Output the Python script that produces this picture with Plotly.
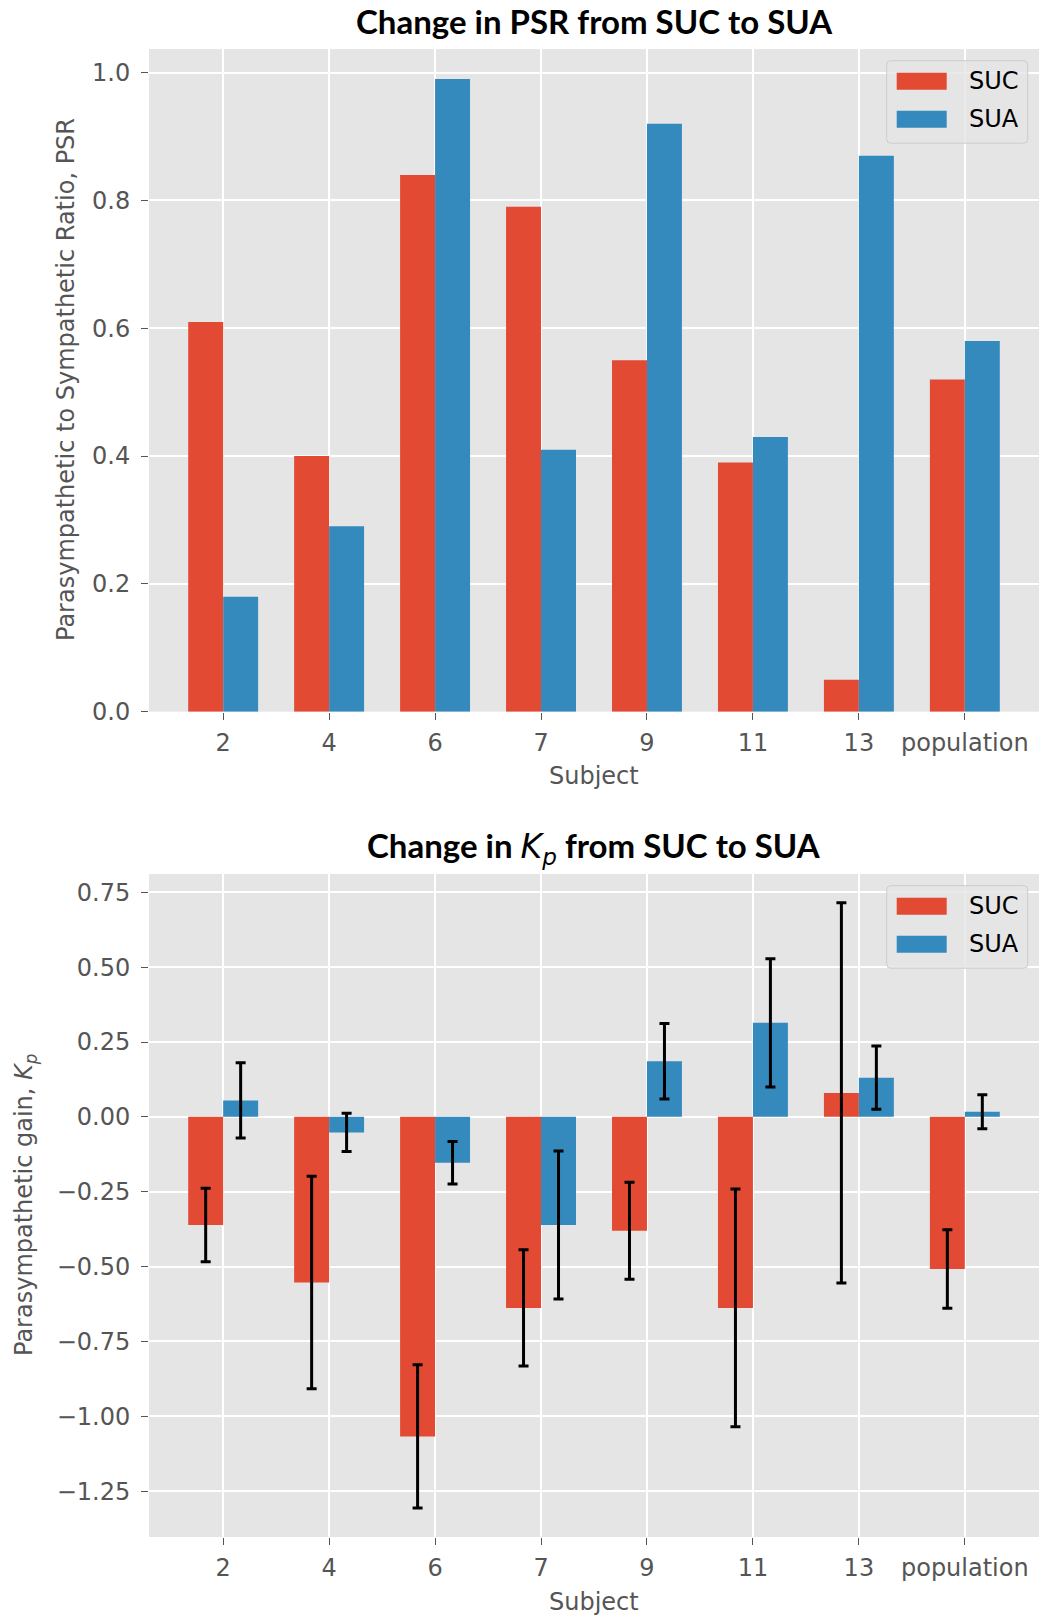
import plotly.graph_objects as go
from plotly.subplots import make_subplots

# ---- data -------------------------------------------------------------
subjects = ["2", "4", "6", "7", "9", "11", "13", "population"]

psr_suc = [0.61, 0.40, 0.84, 0.79, 0.55, 0.39, 0.05, 0.52]
psr_sua = [0.18, 0.29, 0.99, 0.41, 0.92, 0.43, 0.87, 0.58]

kp_suc = [-0.361, -0.553, -1.067, -0.638, -0.380, -0.638, 0.080, -0.508]
kp_sua = [0.055, -0.052, -0.153, -0.361, 0.186, 0.314, 0.131, 0.017]
kp_suc_err = [0.123, 0.355, 0.239, 0.194, 0.162, 0.397, 0.635, 0.131]
kp_sua_err = [0.126, 0.064, 0.071, 0.247, 0.126, 0.214, 0.106, 0.057]

series_names = ["SUC", "SUA"]

# ---- style ------------------------------------------------------------
RED = "#E24A33"
BLUE = "#348ABD"
BG = "#E5E5E5"
TICK_GRAY = "#555555"
TICK_FONT = dict(family="DejaVu Sans", size=24, color=TICK_GRAY)
TITLE_FONT = dict(family="Lato", size=33, color="black")

FIG_W, FIG_H = 1039, 1620
M_L, M_R, M_T, M_B = 149, 0, 49, 83
PW = FIG_W - M_L - M_R
PH = FIG_H - M_T - M_B


def px(x):
    """pixel x -> paper x"""
    return (x - M_L) / PW


def py(y):
    """pixel y -> paper y"""
    return (FIG_H - M_B - y) / PH


TOP_BOTTOM_PX = 711.7
BOT_TOP_PX = 874.0

fig = make_subplots(rows=2, cols=1)

# PSR panel
for name, vals, col in zip(series_names, [psr_suc, psr_sua], [RED, BLUE]):
    fig.add_trace(
        go.Bar(x=subjects, y=vals, name=name, marker=dict(color=col, line=dict(width=0)),
               showlegend=False),
        row=1, col=1,
    )

# Kp panel with error bars
for name, vals, errs, col in zip(series_names, [kp_suc, kp_sua], [kp_suc_err, kp_sua_err], [RED, BLUE]):
    fig.add_trace(
        go.Bar(x=subjects, y=vals, name=name, marker=dict(color=col, line=dict(width=0)),
               error_y=dict(type="data", array=errs, visible=True, color="black",
                            thickness=3, width=5),
               showlegend=False),
        row=2, col=1,
    )

axis_common = dict(
    showgrid=True, gridcolor="white", gridwidth=1.6,
    zeroline=False, showline=False,
    ticks="outside", ticklen=7, tickwidth=1.3, tickcolor=TICK_GRAY,
    tickfont=TICK_FONT,
)

fig.update_xaxes(**axis_common, type="category", range=[-0.70, 7.70], ticklabelstandoff=2)
fig.update_yaxes(**axis_common, ticklabelstandoff=6)

fig.update_layout(
    width=FIG_W, height=FIG_H,
    margin=dict(l=M_L, r=M_R, t=M_T, b=M_B),
    paper_bgcolor="white", plot_bgcolor=BG,
    barmode="group", bargap=0.34, bargroupgap=0,
    showlegend=False,
    xaxis=dict(domain=[0, 1]),
    xaxis2=dict(domain=[0, 1]),
    yaxis=dict(domain=[py(TOP_BOTTOM_PX), 1.0], range=[0, 1.037],
               dtick=0.2, tick0=0, tickformat=".1f"),
    yaxis2=dict(domain=[0, py(BOT_TOP_PX)], range=[-1.403, 0.811],
                dtick=0.25, tick0=0, tickformat=".2f"),
)

# ---- titles and axis labels -------------------------------------------
annots = [
    dict(text="<b>Change in PSR from SUC to SUA</b>", x=px(594), y=py(21),
         font=TITLE_FONT, textangle=0),
    dict(text="<b>Change in </b><span style='font-family:DejaVu Sans'><i>K</i><sub><i>p</i></sub></span>"
              "<b> from SUC to SUA</b>", x=px(594), y=py(847),
         font=TITLE_FONT, textangle=0),
    dict(text="Subject", x=px(594), y=py(776), font=TICK_FONT, textangle=0),
    dict(text="Subject", x=px(594), y=py(1602), font=TICK_FONT, textangle=0),
    dict(text="Parasympathetic to Sympathetic Ratio, PSR", x=px(66), y=py(380),
         font=TICK_FONT, textangle=-90),
    dict(text="Parasympathetic gain, <i>K</i><sub><i>p</i></sub>", x=px(25), y=py(1205),
         font=TICK_FONT, textangle=-90),
]
for a in annots:
    fig.add_annotation(xref="paper", yref="paper", showarrow=False,
                       xanchor="center", yanchor="middle", **a)


# ---- legends (drawn per panel) ----------------------------------------
def rounded_rect(x0, y0, x1, y1, r):
    """Rounded rectangle path in paper coordinates from pixel bounds."""
    pts = [
        f"M {px(x0 + r)} {py(y0)}",
        f"L {px(x1 - r)} {py(y0)}",
        f"Q {px(x1)} {py(y0)} {px(x1)} {py(y0 + r)}",
        f"L {px(x1)} {py(y1 - r)}",
        f"Q {px(x1)} {py(y1)} {px(x1 - r)} {py(y1)}",
        f"L {px(x0 + r)} {py(y1)}",
        f"Q {px(x0)} {py(y1)} {px(x0)} {py(y1 - r)}",
        f"L {px(x0)} {py(y0 + r)}",
        f"Q {px(x0)} {py(y0)} {px(x0 + r)} {py(y0)}",
        "Z",
    ]
    return " ".join(pts)


def add_legend(box_top):
    box_left, box_right = 886.7, 1027.7
    box_h = 82.5
    fig.add_shape(type="path", xref="paper", yref="paper",
                  path=rounded_rect(box_left, box_top, box_right, box_top + box_h, 4),
                  fillcolor="rgba(229,229,229,0.8)", line=dict(color="#CCCCCC", width=1),
                  layer="above")
    for i, (name, col) in enumerate(zip(series_names, [RED, BLUE])):
        cy = box_top + 20.5 + i * 38
        fig.add_shape(type="rect", xref="paper", yref="paper",
                      x0=px(896.7), x1=px(946.7), y0=py(cy - 8.5), y1=py(cy + 8.5),
                      fillcolor=col, line=dict(width=0), layer="above")
        fig.add_annotation(xref="paper", yref="paper", showarrow=False,
                           x=px(966.5), y=py(cy), xanchor="left", yanchor="middle",
                           text=name, font=dict(family="DejaVu Sans", size=24, color="black"))


add_legend(60.7)
add_legend(885.7)

fig.write_html("out.html")
